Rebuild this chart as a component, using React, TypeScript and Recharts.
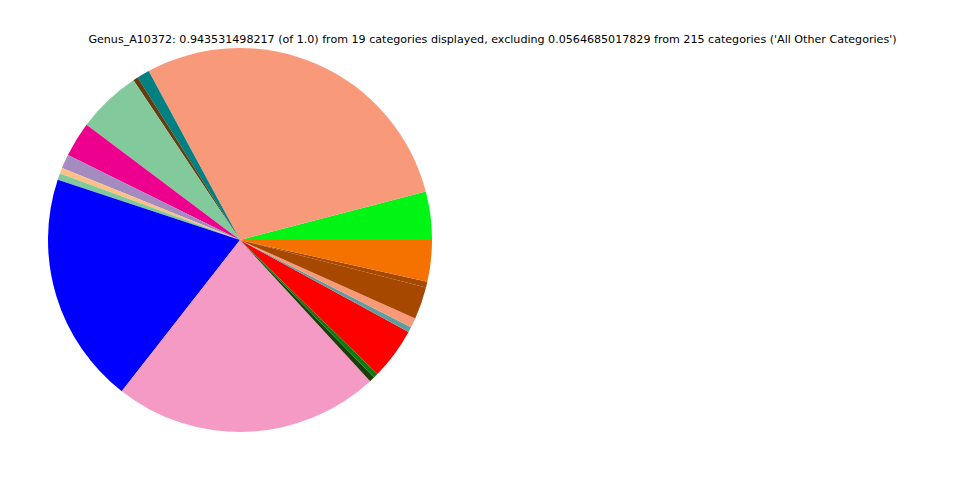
import React from "react"
import { PieChart, Pie, Cell } from "recharts"

const categories = [
    "c01", "c02", "c03", "c04", "c05", "c06", "c07", "c08", "c09", "c10",
    "c11", "c12", "c13", "c14", "c15", "c16", "c17", "c18", "c19",
]

const values = [
    0.0383, 0.2720, 0.0100, 0.0039, 0.0508, 0.0278, 0.0113, 0.0045, 0.0052, 0.1842,
    0.2115, 0.0042, 0.0037, 0.0411, 0.0042, 0.0076, 0.0257, 0.0045, 0.0330,
]

const colors = [
    "#00f514", "#f8997a", "#008080", "#633d0e", "#82c99c", "#ee008e", "#a48bc0", "#fdc086", "#7fc99c", "#0000ff",
    "#f49ac4", "#1e3d08", "#0a7d12", "#ff0000", "#5f9ea0", "#f8997a", "#a64800", "#a64800", "#f57200",
]

const title =
    "Genus_A10372: 0.943531498217 (of 1.0) from 19 categories displayed, excluding 0.0564685017829 from 215 categories ('All Other Categories')"

const data = categories.map((name, i) => ({ name, value: values[i] }))

export default function App() {
    return (
        <div style={{ position: "absolute", left: 0, top: 0, width: 960, height: 480, background: "#fff" }}>
            <div
                style={{
                    position: "absolute",
                    left: 0,
                    width: 985,
                    top: 33,
                    textAlign: "center",
                    fontFamily: "DejaVu Sans",
                    fontSize: 11.1,
                    whiteSpace: "nowrap",
                    color: "#000",
                }}
            >
                {title}
            </div>
            <PieChart width={960} height={480} margin={{ top: 0, right: 0, bottom: 0, left: 0 }}>
                <Pie
                    data={data}
                    dataKey="value"
                    nameKey="name"
                    cx={240}
                    cy={240}
                    outerRadius={192}
                    startAngle={0}
                    endAngle={360}
                    stroke="none"
                    isAnimationActive={false}
                >
                    {data.map((d, i) => (
                        <Cell key={d.name} fill={colors[i]} />
                    ))}
                </Pie>
            </PieChart>
        </div>
    )
}
